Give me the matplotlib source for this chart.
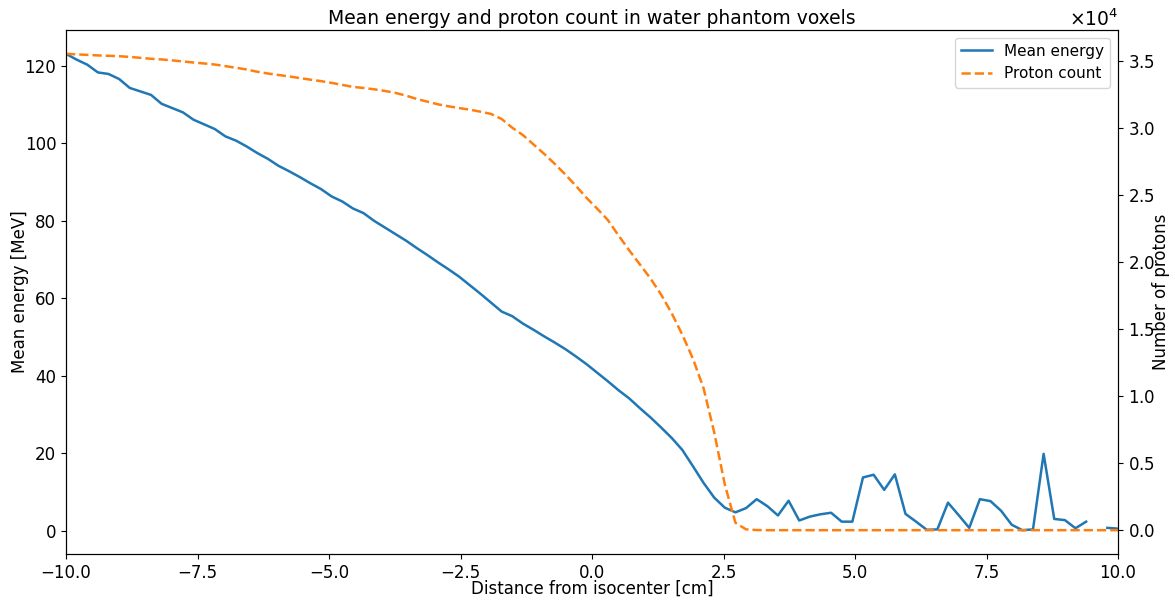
import numpy as np
import matplotlib
matplotlib.use("Agg")
import matplotlib.pyplot as plt

# Distance from isocenter [cm] (100 voxels)
distance = np.linspace(-10, 10, 100)

mean_energy = [
    123.1, 121.6, 120.3, 118.3, 117.9, 116.6, 114.3, 113.4, 112.5, 110.2,
    109.1, 108.0, 106.1, 104.9, 103.7, 101.8, 100.7, 99.2, 97.5, 96.0,
    94.2, 92.8, 91.3, 89.7, 88.2, 86.3, 85.0, 83.2, 82.0, 80.0,
    78.3, 76.6, 74.9, 73.0, 71.2, 69.3, 67.5, 65.6, 63.4, 61.2,
    58.9, 56.6, 55.4, 53.5, 51.9, 50.2, 48.6, 46.9, 45.0, 43.0,
    40.8, 38.6, 36.3, 34.2, 31.7, 29.3, 26.7, 24.0, 20.9, 16.7,
    12.4, 8.6, 6.0, 4.8, 5.9, 8.2, 6.4, 4.0, 7.8, 2.7,
    3.7, 4.3, 4.7, 2.4, 2.4, 13.8, 14.5, 10.6, 14.6, 4.4,
    2.4, 0.3, 0.4, 7.3, 4.1, 0.8, 8.2, 7.7, 5.2, 1.6,
    0.2, 0.4, 19.9, 3.1, 2.8, 0.7, 2.4, np.nan, 0.8, 0.6,
]

proton_count = [
    35570, 35530, 35490, 35450, 35420, 35390, 35340, 35270, 35200, 35150,
    35080, 35000, 34920, 34850, 34770, 34650, 34530, 34400, 34230, 34100,
    33990, 33880, 33760, 33640, 33530, 33400, 33250, 33100, 33020, 32920,
    32800, 32650, 32450, 32200, 32000, 31800, 31650, 31520, 31400, 31250,
    31080, 30700, 30050, 29500, 28800, 28100, 27350, 26550, 25700, 24800,
    24000, 23150, 22000, 20900, 19850, 18800, 17600, 16200, 14600, 12800,
    10600, 7300, 3400, 550, 60, 10, 0, 0, 0, 0,
    0, 0, 0, 0, 0, 0, 0, 0, 0, 0,
    0, 0, 0, 0, 0, 0, 0, 0, 0, 0,
    0, 0, 0, 0, 0, 0, 0, 0, 0, 0,
]

fig = plt.figure(figsize=(11.75, 6.01), dpi=100)
ax = fig.add_subplot(111)
fig.subplots_adjust(left=66/1175, right=1118/1175, top=1-30/601, bottom=1-554/601)

l1, = ax.plot(distance, mean_energy, color="#1f77b4", lw=1.8, label="Mean energy")
ax.set_xlim(-10, 10)
ax.set_xlabel("Distance from isocenter [cm]", fontsize=12, labelpad=-1.2)
ax.set_ylabel("Mean energy [MeV]", fontsize=12, labelpad=-3)
ax.tick_params(labelsize=12)

ax2 = ax.twinx()
l2, = ax2.plot(distance, proton_count, color="#ff7f0e", lw=1.8, ls="--", label="Proton count")
ax2.set_ylabel("Number of protons", fontsize=12, labelpad=-2)
ax2.ticklabel_format(axis="y", style="sci", scilimits=(0, 0), useMathText=True)
ax2.tick_params(labelsize=12)
ax2.yaxis.get_offset_text().set_fontsize(13.5)

ax.set_title("Mean energy and proton count in water phantom voxels", fontsize=13.5, pad=4)
ax2.legend(handles=[l1, l2], loc="upper right", fontsize=11)

fig.savefig("out.png", dpi=100)
